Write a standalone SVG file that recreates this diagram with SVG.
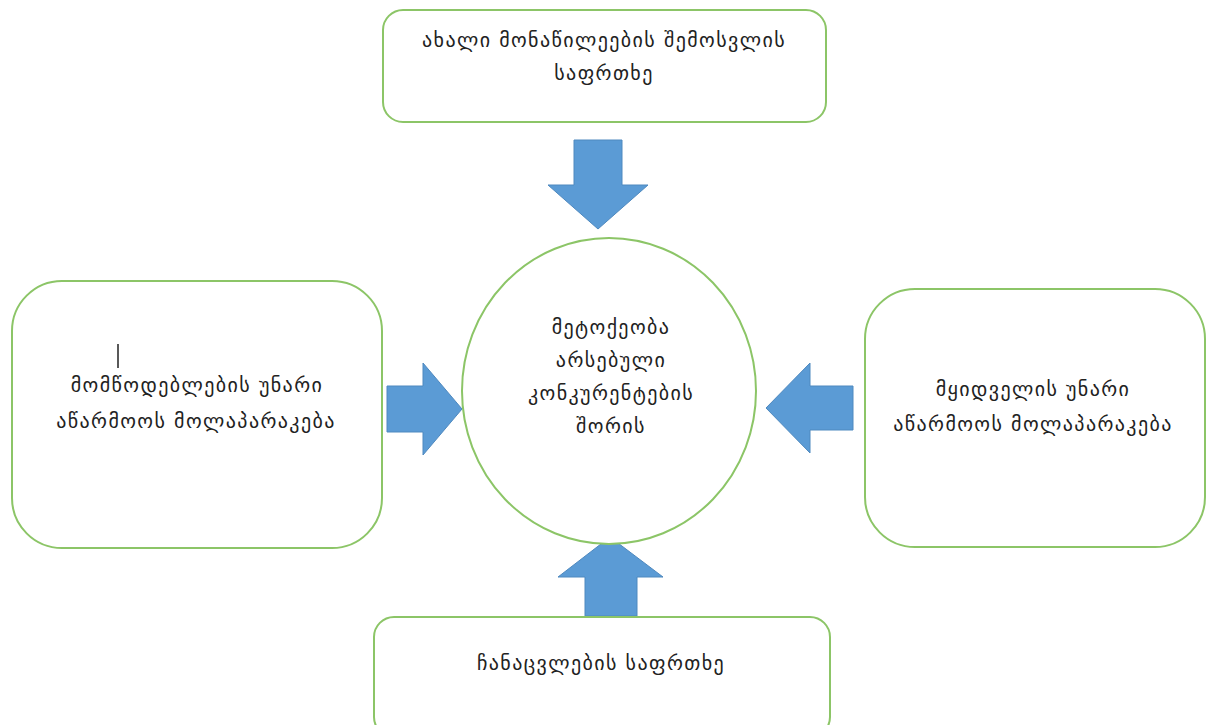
<svg xmlns="http://www.w3.org/2000/svg" width="1206" height="725" viewBox="0 0 1206 725">
<style>
.box{fill:#fff;stroke:#8cc567;stroke-width:2}
.arr{fill:#5b9bd5;stroke:#4f89bf;stroke-width:1}
.t{font-family:"DejaVu Sans",sans-serif;font-size:20px;letter-spacing:1.4px;fill:#222;text-anchor:middle}
</style>
<rect width="1206" height="725" fill="#fff"/>
<g id="connectors">
<polygon class="arr" points="574,140 622,140 622,185 648,185 598,229 548,185 574,185"/>
<polygon class="arr" points="585,616 637,616 637,577 663,577 610,537 558,577 585,577"/>
<polygon class="arr" points="387,386 423,386 423,363 462,409 423,455 423,432 387,432"/>
<polygon class="arr" points="853,386 810,386 810,363 766,408 810,453 810,430 853,430"/>
</g>
<g id="top">
<rect class="box" x="383" y="10" width="443" height="112" rx="20"/>
<text class="t" x="604" y="47">ახალი მონაწილეების შემოსვლის</text>
<text class="t" x="604" y="80">საფრთხე</text>
</g>
<g id="center">
<ellipse class="box" cx="609" cy="391" rx="147" ry="153"/>
<text class="t" x="611" y="334">მეტოქეობა</text>
<text class="t" x="611" y="367">არსებული</text>
<text class="t" x="611" y="400">კონკურენტების</text>
<text class="t" x="611" y="433">შორის</text>
</g>
<g id="left">
<rect class="box" x="12" y="281" width="370" height="267" rx="50"/>
<line x1="118" y1="344" x2="118" y2="368" stroke="#222" stroke-width="1.5"/>
<text class="t" x="197" y="392">მომწოდებლების უნარი</text>
<text class="t" x="196" y="428">აწარმოოს მოლაპარაკება</text>
</g>
<g id="right">
<rect class="box" x="865" y="289" width="340" height="258" rx="50"/>
<text class="t" x="1033" y="396">მყიდველის უნარი</text>
<text class="t" x="1033" y="431">აწარმოოს მოლაპარაკება</text>
</g>
<g id="bottom">
<rect class="box" x="374" y="617" width="456" height="120" rx="20"/>
<text class="t" x="601" y="670">ჩანაცვლების საფრთხე</text>
</g>
</svg>
